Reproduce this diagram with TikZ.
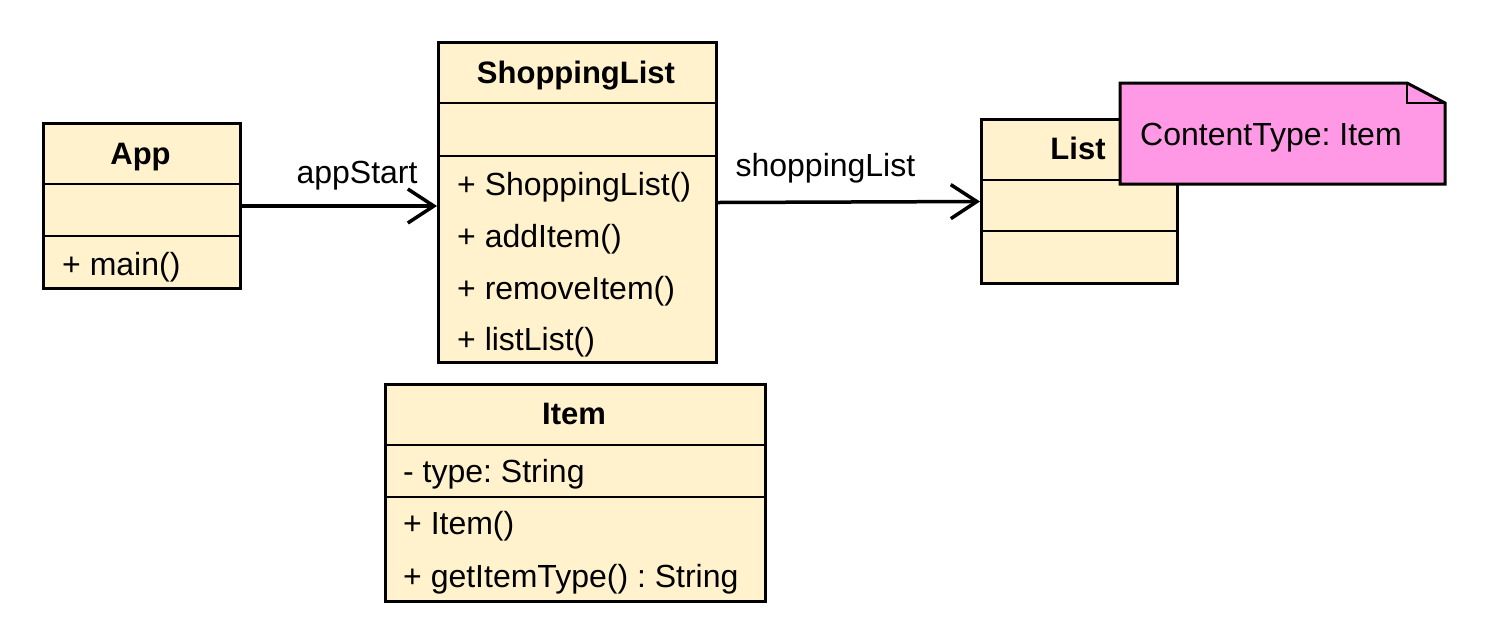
\documentclass[tikz,border=0pt]{standalone}
\usepackage{fontspec}
\setmainfont{Liberation Sans}
\frenchspacing
\usetikzlibrary{arrows.meta}
\definecolor{classfill}{HTML}{FFF2CC}
\definecolor{notefill}{HTML}{FF99E6}
\tikzset{
  classbox/.style={draw=black, fill=classfill, line width=3pt, anchor=north west, inner sep=0pt},
  divider/.style={line width=2pt},
  title/.style={font=\fontsize{31}{36}\selectfont\bfseries, anchor=base, inner sep=0pt},
  member/.style={font=\fontsize{32}{38}\selectfont, anchor=base west, inner sep=0pt},
  lbl/.style={font=\fontsize{32}{38}\selectfont, anchor=base, inner sep=0pt},
  assoc/.style={line width=3.5pt, -{Straight Barb[length=26pt,width=34pt,line width=3.5pt]}},
}
\begin{document}
\begin{tikzpicture}[x=1pt,y=-1pt]
\useasboundingbox (0,0) rectangle (1485,641);
% App
\node[classbox, minimum width=197pt, minimum height=165pt] (app) at (42,122) {};
\draw[divider] (42,184) -- (239,184);
\draw[divider] (42,236) -- (239,236);
\node[title] (appT) at (140.5,164) {App};
\node[member] (appM1) at (62,275) {+ main()};
% ShoppingList
\node[classbox, minimum width=278pt, minimum height=320pt] (sl) at (437,41) {};
\draw[divider] (437,103) -- (715,103);
\draw[divider] (437,156) -- (715,156);
\node[title] (slT) at (576,83) {ShoppingList};
\node[member] (slM1) at (457,195) {+ ShoppingList()};
\node[member] (slM2) at (457,247) {+ addItem()};
\node[member] (slM3) at (457,299) {+ removeItem()};
\node[member] (slM4) at (457,350) {+ listList()};
% List
\node[classbox, minimum width=196pt, minimum height=164pt] (list) at (980,118) {};
\draw[divider] (980,180) -- (1176,180);
\draw[divider] (980,231) -- (1176,231);
\node[title] (listT) at (1078,159) {List};
% Note
\draw[line width=3pt, fill=notefill] (1120,83) -- (1407,83) -- (1445,103) -- (1445,184) -- (1120,184) -- cycle;
\draw[line width=2.5pt, line join=miter] (1407,83) -- (1407,103) -- (1445,103);
\node[member] (noteT) at (1140,145) {ContentType: Item};
% Item
\node[classbox, minimum width=380pt, minimum height=217pt] (item) at (384,383) {};
\draw[divider] (384,445) -- (764,445);
\draw[divider] (384,497) -- (764,497);
\node[title] (itemT) at (574,424) {Item};
\node[member] (itemA1) at (403,482) {- type: String};
\node[member] (itemM1) at (403,534) {+ Item()};
\node[member] (itemM2) at (403,587) {+ getItemType() : String};
% Associations
\draw[assoc] (app.east) -- (app.east -| sl.west) node[lbl, pos=0.59, above=14pt] (lblA) {appStart};
\draw[assoc] (sl.east) -- (list.west) node[lbl, pos=0.41, above=17pt] (lblB) {shoppingList};
\end{tikzpicture}
\end{document}
